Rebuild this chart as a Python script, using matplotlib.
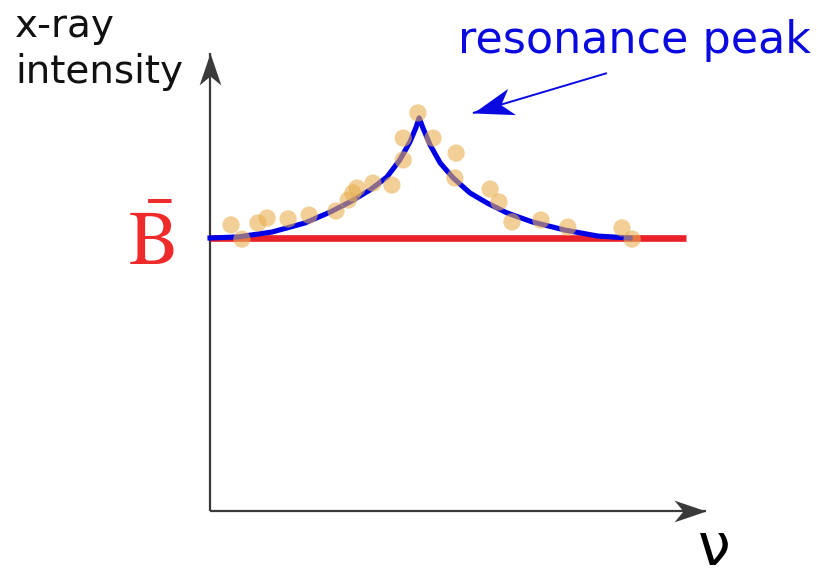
import numpy as np
import matplotlib.pyplot as plt
from matplotlib.path import Path
from matplotlib.markers import MarkerStyle
from matplotlib.transforms import Affine2D

# measured points (frequency, x-ray intensity), arbitrary units
nu_dots = [0.50, 0.76, 1.14, 1.36, 1.86, 2.36, 3.00, 3.29, 3.40, 3.50, 3.88, 4.33,
           4.60, 4.60, 4.95, 5.31, 5.86, 5.83, 6.67, 6.88, 7.19, 7.88, 8.52, 9.81, 10.05]
int_dots = [10.48, 9.96, 10.55, 10.73, 10.70, 10.84, 10.99, 11.39, 11.65, 11.83, 12.01, 11.94,
            12.86, 13.66, 14.58, 13.66, 13.11, 12.20, 11.79, 11.32, 10.59, 10.66, 10.40, 10.37, 9.96]

# resonance fit curve
nu_fit = [0.00, 0.67, 1.48, 2.26, 2.86, 3.33, 3.81, 4.21, 4.52, 4.76, 4.90, 4.98,
          5.07, 5.24, 5.48, 5.79, 6.19, 6.60, 7.07, 7.67, 8.45, 9.24, 10.00]
int_fit = [10.00, 10.04, 10.22, 10.55, 10.95, 11.32, 11.76, 12.23, 12.86, 13.52, 14.03, 14.40,
           14.03, 13.41, 12.75, 12.20, 11.65, 11.28, 10.92, 10.59, 10.29, 10.07, 10.00]

# background level B
nu_bg = [0.0, 11.33]
bg_level = 10.0

# swept arrow head, tip at the origin, pointing up
head = Path([(0, 0), (0.34, -1), (0, -0.72), (-0.34, -1), (0, 0)],
            [Path.MOVETO, Path.LINETO, Path.LINETO, Path.LINETO, Path.CLOSEPOLY])


def arrow(ax, start, end, color, lw, size, angle):
    ax.plot([start[0], end[0]], [start[1], end[1]], color=color, lw=lw, solid_capstyle='butt')
    m = MarkerStyle(head, transform=Affine2D().rotate_deg(angle))
    ax.plot([end[0]], [end[1]], marker=m, ms=size, color=color, mec='none')


fig = plt.figure(figsize=(8.17, 5.79), dpi=100)
ax = fig.add_axes([0, 0, 1, 1])
ax.set_xlim(-5.0, 14.452)
ax.set_ylim(-2.491, 18.718)
ax.axis('off')

axis_col = '#3a3a3a'
arrow(ax, (0, 0), (0, 16.78), axis_col, 1.6, 46, 0)
arrow(ax, (0, 0), (11.8, 0), axis_col, 1.6, 46, -90)

ax.plot(nu_bg, [bg_level, bg_level], color='#e8212a', lw=4.8, solid_capstyle='butt', zorder=3)
ax.plot(nu_fit, int_fit, color='#0000e6', lw=3.7, solid_joinstyle='round', zorder=4)
ax.scatter(nu_dots, int_dots, s=155, color='#e8b050', alpha=0.6, edgecolors='none', zorder=5)

# pointer to the peak
arrow(ax, (9.45, 16.04), (6.26, 14.58), '#0a0ae0', 1.4, 58, 106.6)

ax.text(5.90, 16.78, 'resonance peak', color='#0a0ae0', fontsize=32,
        ha='left', va='baseline')
ax.text(-4.64, 17.36, 'x-ray', color='#111111', fontsize=28, ha='left', va='baseline')
ax.text(-4.64, 15.68, 'intensity', color='#111111', fontsize=28, ha='left', va='baseline')

plt.rcParams['mathtext.fontset'] = 'stix'
ax.text(-1.40, 9.01, r'$\bar{\mathrm{B}}$', color='#ee2a2a', fontsize=54,
        ha='center', va='baseline')
ax.text(12.0, -1.98, 'ν', color='black', fontsize=42, ha='center', va='baseline')

fig.savefig('out.png', dpi=100)
